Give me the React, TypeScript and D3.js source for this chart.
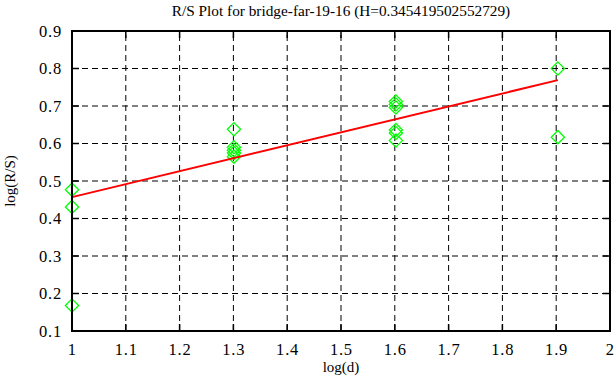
import React from 'react';
import * as d3 from 'd3';

// log10(d) for d = 10, 20, 40, 80
const logD = [
  1, 1, 1,
  1.30103, 1.30103, 1.30103, 1.30103, 1.30103,
  1.60206, 1.60206, 1.60206, 1.60206, 1.60206, 1.60206,
  1.90309, 1.90309,
];
const logRS = [
  0.477, 0.431, 0.168,
  0.638, 0.59, 0.582, 0.575, 0.565,
  0.712, 0.704, 0.696, 0.636, 0.628, 0.608,
  0.8, 0.617,
];

const H = 0.345419502552729;
const intercept = 0.1116;

const xTicks = [1, 1.1, 1.2, 1.3, 1.4, 1.5, 1.6, 1.7, 1.8, 1.9, 2];
const yTicks = [0.1, 0.2, 0.3, 0.4, 0.5, 0.6, 0.7, 0.8, 0.9];

const W = 616;
const Hgt = 387;
const margin = { left: 72, right: 6, top: 31, bottom: 56 };
const font = '"Liberation Serif", "DejaVu Serif", serif';

export default function App() {
  const x = d3.scaleLinear().domain([1, 2]).range([margin.left, W - margin.right]);
  const y = d3.scaleLinear().domain([0.1, 0.9]).range([Hgt - margin.bottom, margin.top]);

  const [x0, x1] = x.range();
  const [y0, y1] = y.range();
  const tick = 7;

  const xMin = d3.min(logD) as number;
  const xMax = d3.max(logD) as number;
  const fitLine = d3.line<number>()
    .x(d => x(d))
    .y(d => y(intercept + H * d));

  const marker = d3.symbol(d3.symbolSquare, 88)();

  return (
    <svg width={W} height={Hgt} style={{ position: 'absolute', left: 0, top: 0, background: '#fff' }}>
      {/* grid */}
      <g stroke="#000" strokeWidth={1} strokeDasharray="6,4">
        {xTicks.slice(1, -1).map(t => (
          <line key={'gx' + t} x1={x(t)} x2={x(t)} y1={y0} y2={y1} />
        ))}
        {yTicks.slice(1, -1).map(t => (
          <line key={'gy' + t} x1={x0} x2={x1} y1={y(t)} y2={y(t)} />
        ))}
      </g>

      {/* ticks on all four sides */}
      <g stroke="#000" strokeWidth={1.5}>
        {xTicks.map(t => (
          <g key={'tx' + t}>
            <line x1={x(t)} x2={x(t)} y1={y0} y2={y0 - tick} />
            <line x1={x(t)} x2={x(t)} y1={y1} y2={y1 + tick} />
          </g>
        ))}
        {yTicks.map(t => (
          <g key={'ty' + t}>
            <line x1={x0} x2={x0 + tick} y1={y(t)} y2={y(t)} />
            <line x1={x1} x2={x1 - tick} y1={y(t)} y2={y(t)} />
          </g>
        ))}
      </g>

      {/* data */}
      <g fill="none" stroke="#00ff00" strokeWidth={1.3}>
        {logD.map((d, i) => (
          <path key={i} d={marker!} transform={`translate(${x(d)},${y(logRS[i])}) rotate(45)`} />
        ))}
      </g>

      {/* fit */}
      <path d={fitLine([xMin, xMax]) || ''} fill="none" stroke="#ff0000" strokeWidth={2} />

      {/* border */}
      <rect x={x0} y={y1} width={x1 - x0} height={y0 - y1} fill="none" stroke="#000" strokeWidth={2} />

      <g fontFamily={font} fill="#000">
        <g fontSize={16.5} letterSpacing={0.8}>
          {xTicks.map(t => (
            <text key={'lx' + t} x={x(t) + 0.4} y={y0 + 24} textAnchor="middle">{t}</text>
          ))}
          {yTicks.map(t => (
            <text key={'ly' + t} x={x0 - 10} y={y(t) + 5.5} textAnchor="end">{t.toFixed(1)}</text>
          ))}
        </g>
        <g fontSize={15}>
          <text x={(x0 + x1) / 2} y={372} textAnchor="middle">log(d)</text>
          <text transform={`translate(15,${(y0 + y1) / 2}) rotate(-90)`} textAnchor="middle">log(R/S)</text>
          <text x={(x0 + x1) / 2} y={16} textAnchor="middle" fontSize={15.3}>
            R/S Plot for bridge-far-19-16 (H=0.345419502552729)
          </text>
        </g>
      </g>
    </svg>
  );
}
